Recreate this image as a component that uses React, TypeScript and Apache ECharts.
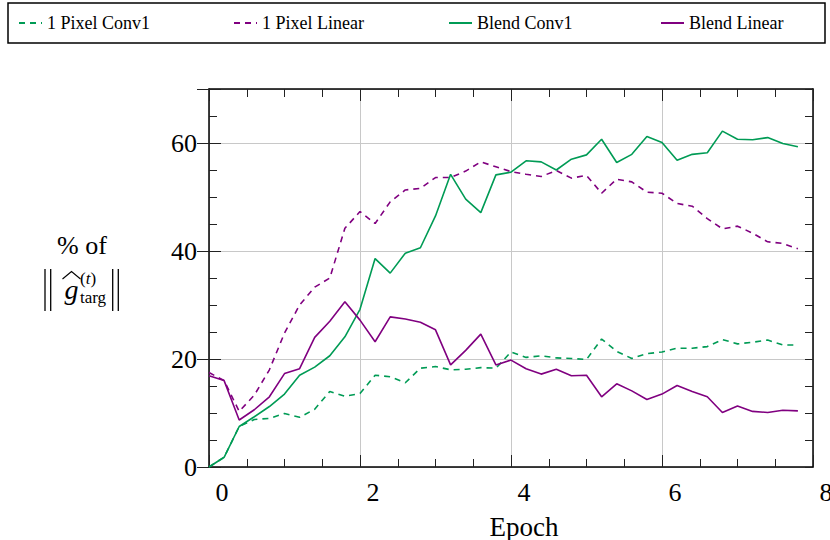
import React, { useEffect, useRef } from "react";
import * as echarts from "echarts";

const epochs = [
  0, 0.2, 0.4, 0.6, 0.8, 1.0, 1.2, 1.4, 1.6, 1.8,
  2.0, 2.2, 2.4, 2.6, 2.8, 3.0, 3.2, 3.4, 3.6, 3.8,
  4.0, 4.2, 4.4, 4.6, 4.8, 5.0, 5.2, 5.4, 5.6, 5.8,
  6.0, 6.2, 6.4, 6.6, 6.8, 7.0, 7.2, 7.4, 7.6, 7.8,
];

const pixelConv1 = [
  0, 1.8, 7.5, 8.8, 9.0, 9.9, 9.2, 10.7, 14.0, 13.1,
  13.6, 17.0, 16.7, 15.6, 18.3, 18.6, 18.0, 18.1, 18.4, 18.3,
  21.3, 20.3, 20.6, 20.2, 20.1, 19.9, 23.7, 21.4, 20.1, 21.0,
  21.3, 22.0, 22.0, 22.3, 23.6, 22.8, 23.1, 23.5, 22.6, 22.6,
];

const pixelLinear = [
  17.5, 16.0, 10.3, 13.3, 18.0, 24.8, 30.0, 33.3, 35.0, 44.2,
  47.3, 45.1, 49.1, 51.3, 51.6, 53.6, 53.6, 54.8, 56.5, 55.6,
  54.7, 54.2, 53.8, 54.9, 53.5, 54.0, 50.7, 53.3, 52.8, 50.9,
  50.7, 48.8, 48.3, 46.0, 44.1, 44.6, 43.3, 41.7, 41.4, 40.4,
];

const blendConv1 = [
  0, 1.8, 7.5, 9.3, 11.2, 13.5, 17.0, 18.5, 20.6, 24.1,
  29.2, 38.6, 35.9, 39.6, 40.6, 46.5, 54.2, 49.6, 47.1, 54.1,
  54.6, 56.7, 56.5, 55.0, 57.0, 57.8, 60.7, 56.4, 57.9, 61.2,
  60.1, 56.8, 57.9, 58.2, 62.2, 60.7, 60.6, 61.0, 59.9, 59.3,
];

const blendLinear = [
  16.9, 16.0, 8.7, 10.6, 13.0, 17.3, 18.2, 24.0, 27.0, 30.6,
  27.2, 23.2, 27.8, 27.4, 26.8, 25.4, 18.9, 21.6, 24.6, 18.9,
  19.8, 18.2, 17.2, 18.1, 16.9, 17.0, 13.0, 15.4, 14.1, 12.5,
  13.5, 15.1, 14.0, 13.0, 10.1, 11.3, 10.3, 10.1, 10.5, 10.4,
];

const seriesNames = ["1 Pixel Conv1", "1 Pixel Linear", "Blend Conv1", "Blend Linear"];

const GREEN = "#009b55";
const PURPLE = "#800080";
const SERIF = "Liberation Serif";

export default function App() {
  const ref = useRef<HTMLDivElement>(null);

  useEffect(() => {
    const chart = echarts.init(ref.current!, null, { renderer: "svg" });
    const pairs = (ys: number[]) => epochs.map((x, i) => [x, ys[i]]);
    const mk = (name: string, ys: number[], color: string, dashed: boolean) => ({
      name,
      type: "line",
      data: pairs(ys),
      xAxisIndex: 0,
      yAxisIndex: 0,
      symbol: "none",
      showSymbol: false,
      lineStyle: { color, width: 1.6, type: dashed ? [6, 5] : "solid" },
      itemStyle: { color },
    });

    const tickStyle = { color: "#222", width: 1 };
    const axisLineStyle = { color: "#000", width: 1.5 };
    const txt = (size: number, extra: any = {}) => ({
      fontFamily: SERIF,
      fontSize: size,
      fill: "#000",
      ...extra,
    });

    const option: any = {
      animation: false,
      backgroundColor: "#fff",
      textStyle: { fontFamily: SERIF },
      grid: {
        left: 209,
        right: 17,
        top: 89,
        bottom: 73,
        containLabel: false,
        outerBoundsMode: "none",
      },
      legend: {
        left: 8,
        top: 3,
        width: 812,
        orient: "horizontal",
        padding: [10, 10, 10, 10],
        itemGap: 10,
        itemWidth: 23,
        itemHeight: 14,
        borderColor: "#000",
        borderWidth: 1.5,
        borderRadius: 0,
        backgroundColor: "#fff",
        itemStyle: { opacity: 0, borderWidth: 0 },
        textStyle: { fontFamily: SERIF, fontSize: 18, color: "#000", lineHeight: 20 },
        data: [
          { name: seriesNames[0], textStyle: { fontFamily: SERIF, fontSize: 18, width: 176, overflow: "none" } },
          { name: seriesNames[1], textStyle: { fontFamily: SERIF, fontSize: 18, width: 176, overflow: "none" } },
          { name: seriesNames[2], textStyle: { fontFamily: SERIF, fontSize: 18, width: 173, overflow: "none" } },
          { name: seriesNames[3], textStyle: { fontFamily: SERIF, fontSize: 18, width: 126, overflow: "none" } },
        ],
      },
      xAxis: [
        {
          type: "value",
          position: "bottom",
          min: 0,
          max: 8,
          interval: 2,
          axisLine: { show: true, onZero: false, lineStyle: axisLineStyle },
          axisTick: { show: true, inside: true, length: 12, lineStyle: tickStyle },
          minorTick: { show: true, splitNumber: 4, length: 8, lineStyle: tickStyle },
          splitLine: { show: true, lineStyle: { color: "#c8c8c8", width: 1 } },
          axisLabel: {
            color: "#000",
            fontFamily: SERIF,
            fontSize: 26,
            margin: 12,
            padding: [0, 0, 0, 26],
            showMinLabel: true,
            showMaxLabel: true,
          },
          name: "Epoch",
          nameLocation: "middle",
          nameGap: 46,
          nameTextStyle: { fontFamily: SERIF, fontSize: 27, color: "#000", padding: [0, 0, 0, 26] },
        },
        {
          type: "value",
          position: "top",
          min: 0,
          max: 8,
          interval: 2,
          axisLine: { show: true, onZero: false, lineStyle: axisLineStyle },
          axisTick: { show: true, inside: true, length: 12, lineStyle: tickStyle },
          minorTick: { show: true, splitNumber: 4, length: 8, lineStyle: tickStyle },
          splitLine: { show: false },
          axisLabel: { show: false },
        },
      ],
      yAxis: [
        {
          type: "value",
          position: "left",
          min: 0,
          max: 70,
          interval: 20,
          axisLine: { show: true, onZero: false, lineStyle: axisLineStyle },
          axisTick: { show: true, inside: true, length: 12, lineStyle: tickStyle },
          splitLine: { show: true, lineStyle: { color: "#c8c8c8", width: 1 } },
          axisLabel: {
            color: "#000",
            fontFamily: SERIF,
            fontSize: 26,
            margin: 12,
            formatter: (v: number) => (v % 20 === 0 ? String(v) : ""),
          },
        },
        {
          type: "value",
          position: "left",
          min: 0,
          max: 70,
          interval: 5,
          axisLine: { show: false },
          axisTick: { show: true, inside: true, length: 8, lineStyle: tickStyle },
          splitLine: { show: false },
          axisLabel: { show: false },
        },
        {
          type: "value",
          position: "right",
          min: 0,
          max: 70,
          interval: 5,
          axisLine: { show: true, onZero: false, lineStyle: axisLineStyle },
          axisTick: { show: true, inside: true, length: 8, lineStyle: tickStyle },
          splitLine: { show: false },
          axisLabel: { show: false },
        },
        {
          type: "value",
          position: "right",
          min: 0,
          max: 70,
          interval: 20,
          axisLine: { show: false },
          axisTick: { show: true, inside: true, length: 12, lineStyle: tickStyle },
          splitLine: { show: false },
          axisLabel: { show: false },
        },
      ],
      graphic: [
        {
          type: "text",
          x: 82,
          y: 245.5,
          style: { text: "% of", ...txt(26), align: "center", verticalAlign: "middle" },
        },
        { type: "line", shape: { x1: 45, y1: 269, x2: 45, y2: 311 }, style: { stroke: "#000", lineWidth: 1.3 } },
        { type: "line", shape: { x1: 50.7, y1: 269, x2: 50.7, y2: 311 }, style: { stroke: "#000", lineWidth: 1.3 } },
        { type: "line", shape: { x1: 112.7, y1: 269, x2: 112.7, y2: 311 }, style: { stroke: "#000", lineWidth: 1.3 } },
        { type: "line", shape: { x1: 118.3, y1: 269, x2: 118.3, y2: 311 }, style: { stroke: "#000", lineWidth: 1.3 } },
        {
          type: "polyline",
          shape: { points: [[62.5, 279], [71.5, 271.5], [80.5, 279]] },
          style: { stroke: "#000", lineWidth: 1.1, fill: null },
        },
        {
          type: "text",
          x: 71.5,
          y: 289,
          style: { text: "g", ...txt(28, { fontStyle: "italic" }), align: "center", verticalAlign: "middle" },
        },
        {
          type: "text",
          x: 80,
          y: 278,
          style: {
            text: "({t|t})",
            ...txt(17),
            align: "left",
            verticalAlign: "middle",
            rich: { t: { fontFamily: SERIF, fontSize: 17, fontStyle: "italic", fill: "#000" } },
          },
        },
        {
          type: "text",
          x: 80,
          y: 297,
          style: { text: "targ", ...txt(17), align: "left", verticalAlign: "middle" },
        },
      ],
      series: [
        mk(seriesNames[0], pixelConv1, GREEN, true),
        mk(seriesNames[1], pixelLinear, PURPLE, true),
        mk(seriesNames[2], blendConv1, GREEN, false),
        mk(seriesNames[3], blendLinear, PURPLE, false),
      ],
    };

    chart.setOption(option);
    return () => chart.dispose();
  }, []);

  return (
    <div
      ref={ref}
      style={{ position: "fixed", left: 0, top: 0, width: 830, height: 540, background: "#fff" }}
    />
  );
}
